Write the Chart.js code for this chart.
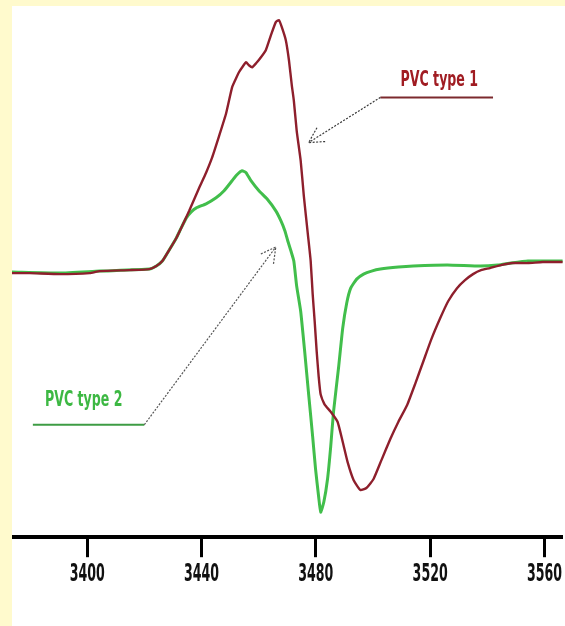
<!DOCTYPE html>
<html>
<head>
<meta charset="utf-8">
<script src="https://cdn.jsdelivr.net/npm/chart.js@4.4.0/dist/chart.umd.min.js"></script>
<style>
  html, body { margin: 0; padding: 0; background: #FFFACD; width: 565px; height: 626px; overflow: hidden; }
  #wrap { position: absolute; left: 12px; top: 6px; width: 553px; height: 620px; background: #ffffff; }
</style>
</head>
<body>
<div id="wrap"><canvas id="ecg"></canvas></div>
<script>
// Sample index (time axis) and amplitude of the two ectopic beats
const pvc1X = [3373.7, 3380.0, 3390.4, 3400.9, 3404.4, 3414.8, 3421.8, 3424.2, 3426.3, 3428.7,
  3431.2, 3432.9, 3435.7, 3439.2, 3441.6, 3443.7, 3446.2, 3448.6, 3450.7, 3452.1,
  3453.1, 3454.5, 3455.6, 3456.6, 3457.7, 3459.1, 3460.8, 3462.5, 3464.3, 3466.0,
  3467.1, 3468.1, 3469.5, 3470.6, 3471.6, 3472.3, 3473.3, 3474.7, 3475.8, 3477.2,
  3478.2, 3478.9, 3479.6, 3480.3, 3481.0, 3481.7, 3483.1, 3485.2, 3487.6, 3489.4,
  3491.1, 3493.2, 3495.6, 3497.7, 3500.2, 3503.0, 3506.1, 3508.9, 3512.0, 3514.8,
  3517.6, 3520.4, 3523.5, 3526.3, 3529.4, 3532.2, 3535.0, 3537.8, 3540.9, 3544.8,
  3548.9, 3554.2, 3559.4, 3566.4];
const pvc1Y = [-0.02, -0.02, -0.03, -0.02, 0.00, 0.01, 0.02, 0.05, 0.10, 0.21,
  0.33, 0.43, 0.60, 0.83, 0.98, 1.13, 1.35, 1.57, 1.83, 1.92,
  1.98, 2.04, 2.08, 2.05, 2.03, 2.07, 2.13, 2.20, 2.35, 2.48,
  2.50, 2.43, 2.30, 2.10, 1.85, 1.70, 1.40, 1.10, 0.75, 0.37,
  0.10, -0.23, -0.50, -0.80, -1.05, -1.23, -1.33, -1.40, -1.50, -1.70,
  -1.90, -2.08, -2.18, -2.16, -2.07, -1.88, -1.67, -1.50, -1.33, -1.12,
  -0.90, -0.68, -0.47, -0.30, -0.17, -0.09, -0.03, 0.01, 0.03, 0.06,
  0.08, 0.08, 0.09, 0.09];

const pvc2X = [3373.7, 3390.4, 3404.4, 3421.8, 3424.2, 3426.3, 3428.7, 3431.2, 3432.9, 3434.7,
  3436.4, 3438.2, 3441.6, 3445.1, 3447.9, 3450.7, 3452.4, 3454.2, 3455.6, 3457.3,
  3460.1, 3462.9, 3466.0, 3467.8, 3469.2, 3470.2, 3471.3, 3472.3, 3473.3, 3474.7,
  3476.1, 3477.5, 3478.9, 3479.9, 3481.0, 3481.7, 3482.8, 3484.1, 3485.2, 3486.2,
  3488.0, 3489.4, 3490.8, 3492.2, 3494.3, 3496.7, 3499.5, 3502.6, 3508.9, 3514.1,
  3526.0, 3537.5, 3543.7, 3548.3, 3554.2, 3566.4];
const pvc2Y = [-0.01, -0.02, 0.00, 0.02, 0.05, 0.10, 0.21, 0.33, 0.43, 0.53,
  0.59, 0.63, 0.67, 0.73, 0.80, 0.90, 0.96, 1.00, 0.98, 0.90,
  0.80, 0.72, 0.60, 0.50, 0.40, 0.30, 0.20, 0.10, -0.15, -0.40,
  -0.80, -1.23, -1.65, -1.97, -2.25, -2.40, -2.30, -2.07, -1.75, -1.40,
  -0.95, -0.57, -0.32, -0.17, -0.08, -0.03, 0.00, 0.02, 0.04, 0.05,
  0.06, 0.05, 0.06, 0.08, 0.10, 0.10];

const xTickValues = [3400, 3440, 3480, 3520, 3560];
const seriesNames = ['PVC type 1', 'PVC type 2'];

const toPoints = (xs, ys) => xs.map((x, i) => ({ x: x, y: ys[i] }));

const condensedFont = '"DejaVu Sans Condensed", "Liberation Sans Narrow", "Arial Narrow", sans-serif';

// Callout labels with elbow arrows, placed in data coordinates
const callouts = [
  {
    text: seriesNames[0], textColor: '#A01C22', textAt: [3523.2, 1.90],
    underline: [[3542.0, 1.73], [3502.6, 1.73]], underlineColor: '#7C2A2E',
    shaftTo: [3477.5, 1.28], shaftColor: '#3A3A3A'
  },
  {
    text: seriesNames[1], textColor: '#3DB843', textAt: [3398.8, -1.29],
    underline: [[3381.0, -1.53], [3420.0, -1.53]], underlineColor: '#3E9C44',
    shaftTo: [3466.0, 0.24], shaftColor: '#555555'
  }
];

const calloutPlugin = {
  id: 'callouts',
  afterDatasetsDraw(chart) {
    const { ctx, scales: { x, y } } = chart;
    const px = p => [x.getPixelForValue(p[0]), y.getPixelForValue(p[1])];
    ctx.save();
    callouts.forEach(c => {
      const [u0, u1] = c.underline.map(px);
      const tip = px(c.shaftTo);
      // underline
      ctx.setLineDash([]);
      ctx.strokeStyle = c.underlineColor;
      ctx.lineWidth = 2;
      ctx.beginPath(); ctx.moveTo(u0[0], u0[1]); ctx.lineTo(u1[0], u1[1]); ctx.stroke();
      // dotted shaft
      ctx.strokeStyle = c.shaftColor;
      ctx.lineWidth = 1.2;
      ctx.setLineDash([2, 1.5]);
      ctx.beginPath(); ctx.moveTo(u1[0], u1[1]); ctx.lineTo(tip[0], tip[1]); ctx.stroke();
      // open arrow head
      const ang = Math.atan2(u1[1] - tip[1], u1[0] - tip[0]);
      const len = 17, spread = 0.5;
      ctx.beginPath();
      ctx.moveTo(tip[0] + len * Math.cos(ang - spread), tip[1] + len * Math.sin(ang - spread));
      ctx.lineTo(tip[0], tip[1]);
      ctx.lineTo(tip[0] + len * Math.cos(ang + spread), tip[1] + len * Math.sin(ang + spread));
      ctx.stroke();
      ctx.setLineDash([]);
      // label text, tall condensed lettering
      const t = px(c.textAt);
      ctx.save();
      ctx.translate(t[0], t[1]);
      ctx.scale(1, 1.5);
      ctx.font = 'bold 14px ' + condensedFont;
      ctx.fillStyle = c.textColor;
      ctx.textAlign = 'center';
      ctx.textBaseline = 'middle';
      ctx.fillText(c.text, 0, 0);
      ctx.restore();
    });
    ctx.restore();
  }
};

// Draw the x-axis tick labels with a vertical stretch (tall narrow numerals)
const LABEL_STRETCH = 1.75;
const tallLabelsPlugin = {
  id: 'tallLabels',
  afterLayout(chart) {
    const scale = chart.scales.x;
    if (scale._tallWrapped) return;
    const orig = scale.drawLabels;
    scale.drawLabels = function (area) {
      const ctx = this.ctx;
      const opts = this.options;
      const y0 = this.top + opts.grid.tickLength + opts.ticks.padding;
      ctx.save();
      ctx.translate(0, y0);
      ctx.scale(1, LABEL_STRETCH);
      ctx.translate(0, -y0);
      orig.call(this, area);
      ctx.restore();
    };
    scale._tallWrapped = true;
  }
};

new Chart(document.getElementById('ecg'), {
  type: 'line',
  data: {
    datasets: [
      {
        label: seriesNames[0],
        data: toPoints(pvc1X, pvc1Y),
        borderColor: '#8E1F2C',
        borderWidth: 2.4,
        pointRadius: 0,
        tension: 0.15,
        borderJoinStyle: 'round',
        fill: false
      },
      {
        label: seriesNames[1],
        data: toPoints(pvc2X, pvc2Y),
        borderColor: '#41BE4B',
        borderWidth: 3,
        pointRadius: 0,
        tension: 0.15,
        borderJoinStyle: 'round',
        fill: false
      }
    ]
  },
  options: {
    responsive: true,
    maintainAspectRatio: false,
    animation: false,
    layout: { padding: { left: 0, right: 0, top: 0, bottom: 46 } },
    plugins: { legend: { display: false }, tooltip: { enabled: false } },
    scales: {
      x: {
        type: 'linear',
        min: 3373.7,
        max: 3566.4,
        afterBuildTicks: s => { s.ticks = xTickValues.map(v => ({ value: v })); },
        ticks: {
          autoSkip: false,
          maxRotation: 0,
          padding: 3,
          color: '#111111',
          callback: v => String(v),
          font: { family: condensedFont, weight: 'bold', size: 14 }
        },
        grid: { drawOnChartArea: false, drawTicks: true, tickLength: 20, tickWidth: 3, tickColor: '#000000' },
        border: { display: true, color: '#000000', width: 4 }
      },
      y: {
        display: false,
        min: -2.65,
        max: 2.64
      }
    }
  },
  plugins: [calloutPlugin, tallLabelsPlugin]
});
</script>
</body>
</html>
